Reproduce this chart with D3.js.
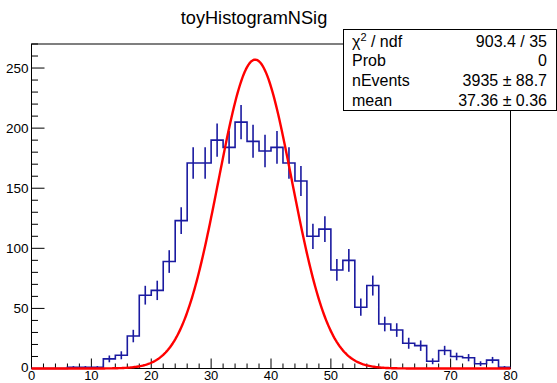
<!DOCTYPE html>
<html>
<head>
<meta charset="utf-8">
<script src="https://cdn.jsdelivr.net/npm/d3@7"></script>
<style>
  html, body { margin: 0; padding: 0; background: #fff; }
  svg { display: block; }
  text { font-family: "Liberation Sans", Arial, Helvetica, sans-serif; fill: #000; }
</style>
</head>
<body>
<svg id="chart" width="557" height="383"></svg>
<script>
// Histogram: 40 bins of width 2 between 0 and 80
const xRange = [0, 80];
const binWidth = 2;
const counts = [0, 0, 0, 1, 1, 1, 8, 11, 27, 61,
                65, 89, 123, 171, 171, 190, 184, 205, 189, 181,
                184, 171, 156, 110, 116, 82, 90, 51, 69, 37,
                32, 21, 19, 6, 15, 10, 9, 4, 7, 1];

// Fitted curve parameters
const fitPeak = 257;
const fitMean = 37.36;
const fitSigma = 6.15;

// Axis ticks
const xTicks = [0, 10, 20, 30, 40, 50, 60, 70, 80];
const yTicks = [0, 50, 100, 150, 200, 250];
const yMax = 270;

// Stats box rows
const statLabels = ["χ2 / ndf", "Prob", "nEvents", "mean"];
const statValues = ["903.4 / 35", "0", "3935 ± 88.7", "37.36 ± 0.36"];

const title = "toyHistogramNSig";

const svg = d3.select("#chart");
const frame = { left: 31.5, right: 510.5, top: 44, bottom: 368.5 };

const x = d3.scaleLinear().domain(xRange).range([frame.left, frame.right]);
const y = d3.scaleLinear().domain([0, yMax]).range([frame.bottom, frame.top]);

// Frame
svg.append("rect")
  .attr("x", frame.left).attr("y", frame.top)
  .attr("width", frame.right - frame.left).attr("height", frame.bottom - frame.top)
  .attr("fill", "none").attr("stroke", "#000").attr("stroke-width", 1);

// X axis: major ticks every 10, minor every 2, pointing into the frame
const xMinor = d3.range(xRange[0], xRange[1] + 0.001, 2);
const gx = svg.append("g");
gx.selectAll("line.minor").data(xMinor).join("line")
  .attr("x1", d => x(d)).attr("x2", d => x(d))
  .attr("y1", frame.bottom).attr("y2", d => frame.bottom - (d % 10 === 0 ? 10 : 5))
  .attr("stroke", "#000").attr("stroke-width", 1);
gx.selectAll("text").data(xTicks).join("text")
  .attr("x", d => x(d)).attr("y", 380)
  .attr("text-anchor", "middle").attr("font-size", 13)
  .text(d => d);

// Y axis: major ticks every 50, minor every 10
const yMinor = d3.range(0, yMax + 0.001, 10);
const gy = svg.append("g");
gy.selectAll("line").data(yMinor).join("line")
  .attr("x1", frame.left).attr("x2", d => frame.left + (d % 50 === 0 ? 13 : 6.5))
  .attr("y1", d => y(d)).attr("y2", d => y(d))
  .attr("stroke", "#000").attr("stroke-width", 1);
gy.selectAll("text").data(yTicks).join("text")
  .attr("x", 28.5).attr("y", d => y(d) + (d === 0 ? 3.6 : 4.6))
  .attr("text-anchor", "end").attr("font-size", 13.5)
  .text(d => d);

// Histogram outline as steps
const bins = counts.map((c, i) => ({ lo: xRange[0] + i * binWidth, hi: xRange[0] + (i + 1) * binWidth, c }));
const stepPts = [];
bins.forEach(b => { stepPts.push([b.lo, b.c]); stepPts.push([b.hi, b.c]); });
const histColor = "#1a1aa0";
svg.append("path")
  .attr("d", d3.line().x(d => x(d[0])).y(d => y(d[1]))(stepPts))
  .attr("fill", "none").attr("stroke", histColor).attr("stroke-width", 1.6);

// Poisson error bars at bin centres
svg.append("g").selectAll("line").data(bins.filter(b => b.c > 0)).join("line")
  .attr("x1", b => x((b.lo + b.hi) / 2)).attr("x2", b => x((b.lo + b.hi) / 2))
  .attr("y1", b => y(b.c - Math.sqrt(b.c))).attr("y2", b => y(b.c + Math.sqrt(b.c)))
  .attr("stroke", histColor).attr("stroke-width", 1.6);

// Fitted Gaussian
const gauss = v => fitPeak * Math.exp(-0.5 * Math.pow((v - fitMean) / fitSigma, 2));
const curvePts = d3.range(xRange[0], xRange[1] + 0.0001, 0.2).map(v => [v, gauss(v)]);
svg.append("path")
  .attr("d", d3.line().x(d => x(d[0])).y(d => y(d[1]))(curvePts))
  .attr("fill", "none").attr("stroke", "#ff0000").attr("stroke-width", 2.4)
  .attr("stroke-linejoin", "round");

// Title
svg.append("text")
  .attr("x", 254).attr("y", 23.5)
  .attr("text-anchor", "middle").attr("font-size", 18.2)
  .text(title);

// Stats box
const box = { x: 343.5, y: 29.5, w: 213, h: 81 };
svg.append("rect")
  .attr("x", box.x).attr("y", box.y).attr("width", box.w).attr("height", box.h)
  .attr("fill", "#fff").attr("stroke", "#000").attr("stroke-width", 1);
const rowBase = [46.5, 66.3, 86, 105.8];
const statG = svg.append("g");
statLabels.forEach((lab, i) => {
  const t = statG.append("text").attr("x", 352).attr("y", rowBase[i]).attr("font-size", 16);
  if (lab.startsWith("χ2")) {
    t.append("tspan").text("χ");
    t.append("tspan").attr("dy", -6).attr("font-size", 11).text("2");
    t.append("tspan").attr("dy", 6).text(" / ndf");
  } else {
    t.text(lab);
  }
  statG.append("text").attr("x", 547).attr("y", rowBase[i])
    .attr("text-anchor", "end").attr("font-size", 16).text(statValues[i]);
});
</script>
</body>
</html>
